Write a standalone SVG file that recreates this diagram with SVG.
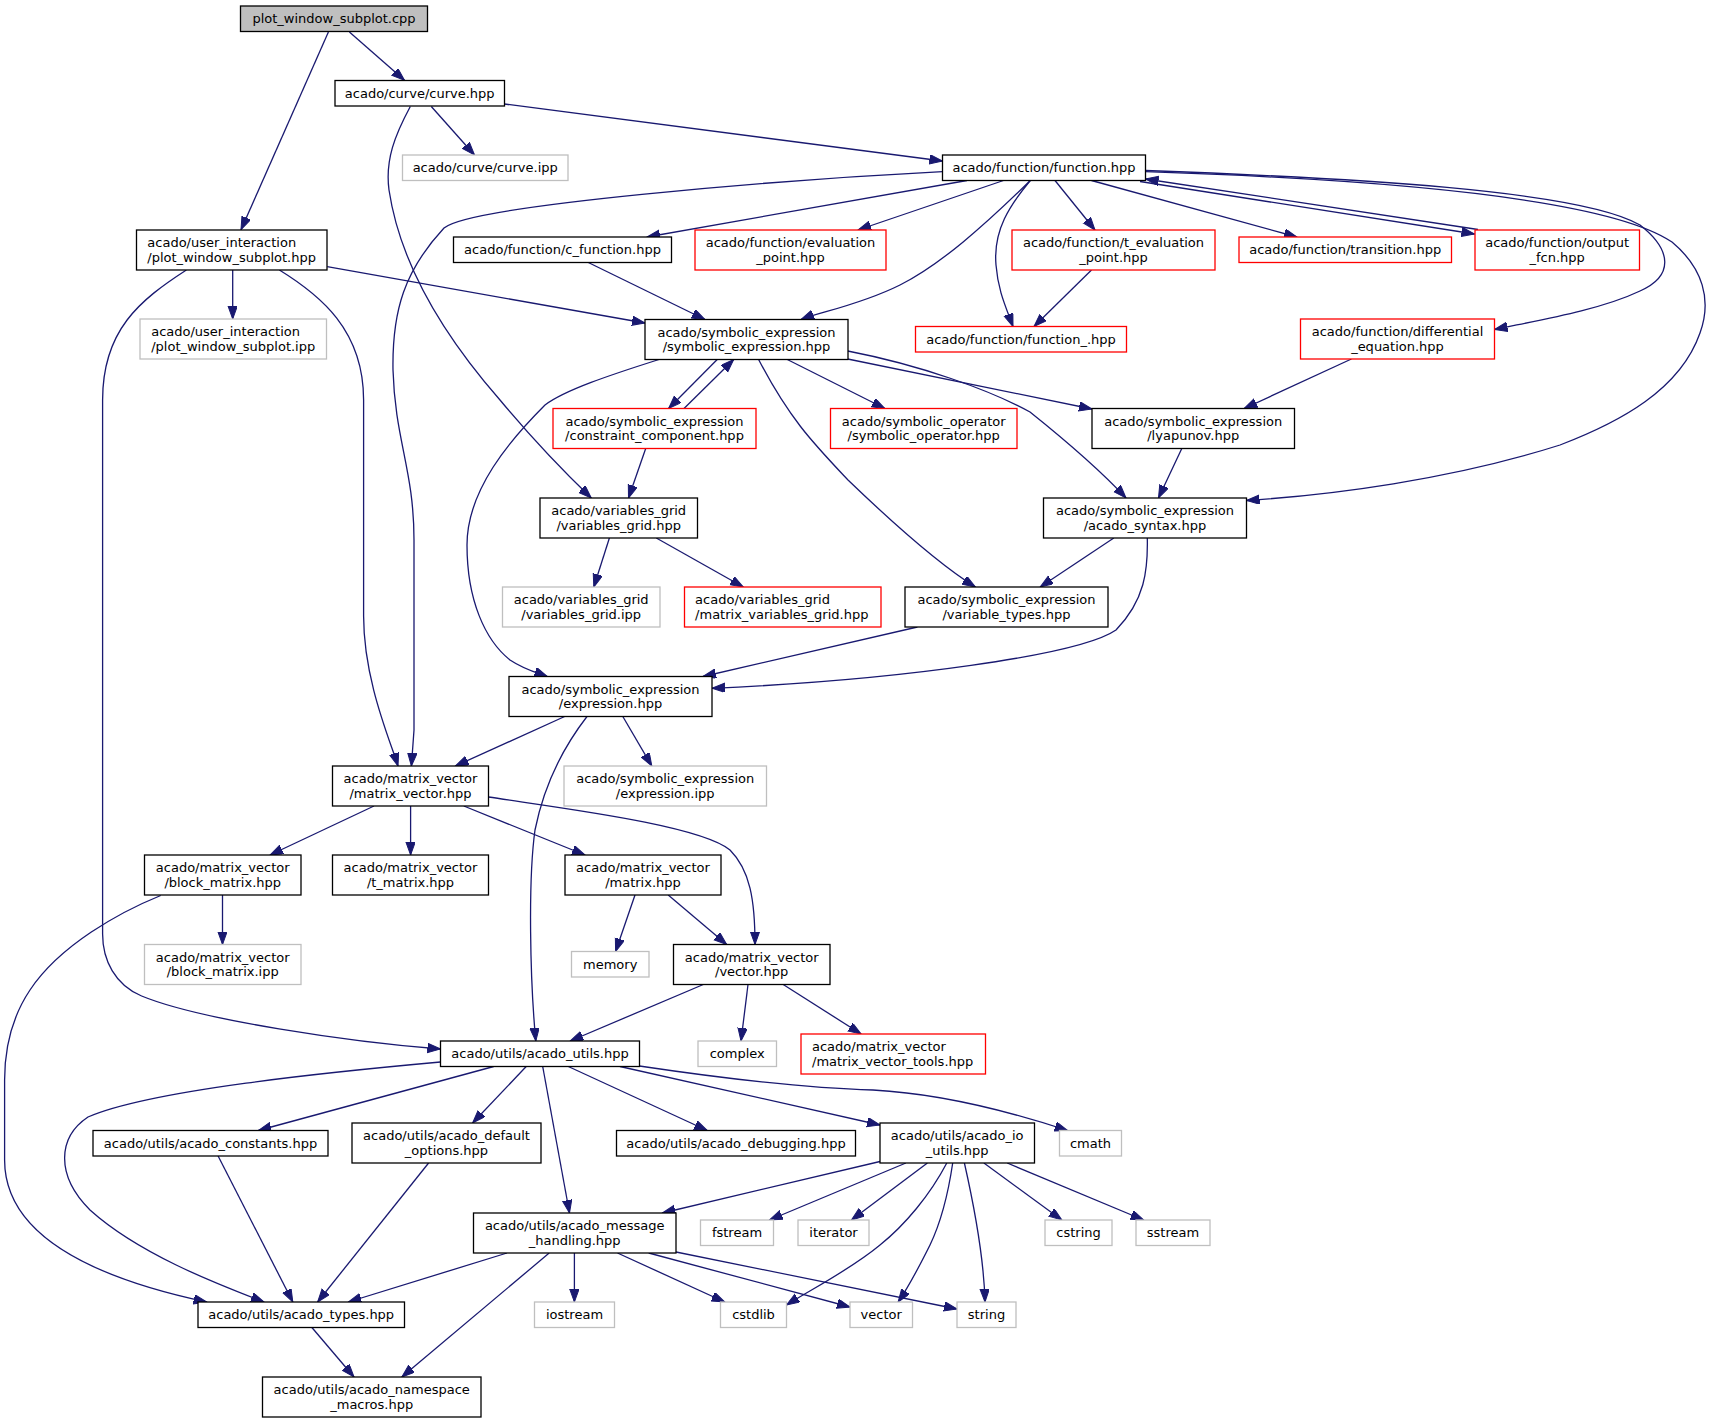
<svg xmlns="http://www.w3.org/2000/svg" width="1711" height="1423" viewBox="0 0 1711 1423">
<style>
rect{fill:#fff;stroke:#000;stroke-width:1.3}
.r rect{stroke:#ff0000}
.g rect{stroke:#bfbfbf}
.root rect{fill:#bfbfbf}
text{font-family:"DejaVu Sans","Liberation Sans",sans-serif;font-size:13px;text-anchor:middle;fill:#000}
text.l{text-anchor:start}
.e path{fill:none;stroke:#191970;stroke-width:1.3;marker-end:url(#a)}
</style>
<defs>
<marker id="a" markerUnits="userSpaceOnUse" markerWidth="15" markerHeight="11" refX="13" refY="4.7" orient="auto">
<path d="M0,0 L13,4.7 L0,9.4 z" fill="#191970" stroke="#191970" stroke-width="1"/>
</marker>
</defs>
<rect x="0" y="0" width="1711" height="1423" style="fill:#fff;stroke:none"/>
<g class="e" id="edges">
<path d="M349.4,32 L404.5,80.3"/>
<path d="M328.4,32 L241,229.7"/>
<path d="M431.3,106.5 L474.5,155"/>
<path d="M504.4,104 L942.5,161"/>
<path d="M410.3,106.5 C395,135 385,160 389,190 C398,250 430,320 500,400 C525,430 560,468 591.3,498"/>
<path d="M942.5,171.7 C780,180 470,205 444,228 C405,270 392,310 393,370 C395,440 414,470 414,540 L414,730 L411.4,766"/>
<path d="M279.4,270 C320,295 363.6,330 363.6,400 L363.6,616 C363.6,680 390,740 398,766"/>
<path d="M232.7,270 L232.7,319"/>
<path d="M186.4,270 C140,300 102.6,330 102.6,400 L102.6,934 C102.6,960 115,985 141.6,996 C200,1020 350,1042 440.5,1049"/>
<path d="M327.2,266.7 L645,323"/>
<path d="M967,180.5 L647,237"/>
<path d="M1003.5,180.5 L858,230"/>
<path d="M1030.3,180.5 C985,225 940,265 900,285 C860,305 820,312 801,319.5"/>
<path d="M1030.3,180.5 C1010,205 993,230 996,265 C998,290 1005,305 1013,326.5"/>
<path d="M1091.5,270 L1034,326.5"/>
<path d="M1055,180.5 L1095,230"/>
<path d="M1091.5,180.5 L1297,237"/>
<path d="M1140,181.5 L1474.5,234"/>
<path d="M1478,229.5 L1145.5,179"/>
<path d="M1145.5,170.5 C1350,178 1580,190 1640,225 C1672,250 1674,276 1640,291 C1600,310 1540,320 1494.5,329.5"/>
<path d="M1145.5,171.7 C1400,180 1610,200 1672,242 C1703,268 1712,300 1700,333 C1680,390 1620,422 1560,445 C1450,480 1330,495 1246.5,500.5"/>
<path d="M588.3,262.5 L705,319.5"/>
<path d="M717.2,359.5 L668.6,408.5"/>
<path d="M684,408.5 L733.7,359.5"/>
<path d="M645.7,448.5 L628.5,498"/>
<path d="M787.3,359.5 L884.9,408.5"/>
<path d="M847.7,359 L1092,409"/>
<path d="M847.7,351 C920,365 990,390 1030,412 C1065,440 1100,470 1126,498"/>
<path d="M758.6,359.5 C790,420 815,445 848,480 C900,530 940,565 975.4,587"/>
<path d="M659,359.5 C610,375 565,390 545,405 C510,440 467,490 467,545 C467,600 485,640 510,660 C525,670 538,673 547.3,676.5"/>
<path d="M609.4,538 L593.8,587"/>
<path d="M656.3,538 L743.3,587"/>
<path d="M1181.8,448.5 L1158.5,498"/>
<path d="M1351.4,359 L1244.2,408.5"/>
<path d="M1113.8,538 L1040.2,587"/>
<path d="M1147.3,538 C1148,570 1145,600 1116,630 C1080,655 900,680 712,688.3"/>
<path d="M917.4,627 L703,676.5"/>
<path d="M564.7,716.5 L455.4,766"/>
<path d="M622.8,716.5 L651.8,766"/>
<path d="M587,716.5 C565,745 545,780 535,830 C528,880 530,980 535.8,1041"/>
<path d="M374,806 L270,855"/>
<path d="M410.6,806 L410.6,855"/>
<path d="M463.8,806 L585,855"/>
<path d="M488.5,797 C560,808 700,825 730,850 C750,870 755,900 755,944.5"/>
<path d="M222.5,895 L222.5,944.5"/>
<path d="M160.7,895.5 C120,912 60,945 30,990 C10,1020 4.6,1050 4.6,1080 L4.6,1160 C4.6,1230 80,1275 206.7,1302"/>
<path d="M635,895 L615.6,951.5"/>
<path d="M668.2,895 L726.7,944.5"/>
<path d="M703.3,984.5 L570.2,1041"/>
<path d="M748,984.5 L741,1041"/>
<path d="M783.2,984.5 L861.1,1034"/>
<path d="M440.5,1062 C330,1072 150,1090 88,1117 C58,1137 55,1175 90,1210 C140,1255 220,1285 264,1302"/>
<path d="M493.7,1066.5 L258.3,1130.5"/>
<path d="M526.2,1066.5 L472.6,1123"/>
<path d="M542.7,1066.5 L569.5,1213"/>
<path d="M568.3,1066.5 L707.2,1130.5"/>
<path d="M620,1066.5 L880,1125"/>
<path d="M639.4,1066 C720,1078 800,1088 873,1090 C930,1093 990,1105 1067.6,1130.5"/>
<path d="M218.1,1156 L292.8,1302"/>
<path d="M428.6,1163 L317.6,1302"/>
<path d="M507,1253 L348.3,1302"/>
<path d="M549.2,1253 L401.8,1377"/>
<path d="M574.4,1253 L574.4,1302"/>
<path d="M617.5,1253 L724.7,1302"/>
<path d="M648.7,1253 L850,1307"/>
<path d="M676,1252 L957,1309"/>
<path d="M311.9,1327.5 L354,1377"/>
<path d="M880,1161.5 L662.4,1213"/>
<path d="M905.9,1163 L769.5,1220"/>
<path d="M927.4,1163 L851.4,1220"/>
<path d="M946.8,1163 C930,1195 905,1225 880,1245 C850,1270 810,1290 786.5,1305"/>
<path d="M952.7,1163 C948,1195 942,1220 930,1245 C920,1265 910,1285 898.1,1302"/>
<path d="M964.4,1163 C975,1210 984,1260 985,1302"/>
<path d="M983.9,1163 L1061.8,1220"/>
<path d="M1007.2,1163 L1143.6,1220"/>
</g>
<g id="n_cpp" class="root"><rect x="240.5" y="6" width="187" height="25.5"/><text x="334" y="23.3">plot_window_subplot.cpp</text></g>
<g id="n_curve"><rect x="335" y="80.5" width="169.5" height="25.5"/><text x="419.7" y="97.8">acado/curve/curve.hpp</text></g>
<g id="n_curveipp" class="g"><rect x="402.5" y="155" width="165.5" height="25.5"/><text x="485.2" y="172.3">acado/curve/curve.ipp</text></g>
<g id="n_ui"><rect x="136.5" y="230" width="190.5" height="40"/><text class="l" x="147.3" y="247">acado/user_interaction</text><text class="l" x="147.3" y="261.5">/plot_window_subplot.hpp</text></g>
<g id="n_uiipp" class="g"><rect x="140" y="319" width="186.5" height="40"/><text class="l" x="151.2" y="336">acado/user_interaction</text><text class="l" x="151.2" y="350.5">/plot_window_subplot.ipp</text></g>
<g id="n_function"><rect x="942.5" y="155" width="203" height="25.5"/><text x="1044" y="172.3">acado/function/function.hpp</text></g>
<g id="n_cfunction"><rect x="453.5" y="237" width="218" height="25.5"/><text x="562.5" y="254.3">acado/function/c_function.hpp</text></g>
<g id="n_evalpt" class="r"><rect x="695" y="230" width="191" height="40"/><text x="790.5" y="247">acado/function/evaluation</text><text x="790.5" y="261.5">_point.hpp</text></g>
<g id="n_tevalpt" class="r"><rect x="1012" y="230" width="203" height="40"/><text x="1113.5" y="247">acado/function/t_evaluation</text><text x="1113.5" y="261.5">_point.hpp</text></g>
<g id="n_transition" class="r"><rect x="1239" y="237" width="212.5" height="25.5"/><text x="1345.2" y="254.3">acado/function/transition.hpp</text></g>
<g id="n_outputfcn" class="r"><rect x="1475" y="230" width="164.5" height="40"/><text x="1557.2" y="247">acado/function/output</text><text x="1557.2" y="261.5">_fcn.hpp</text></g>
<g id="n_symexpr"><rect x="645" y="319.5" width="203" height="40"/><text x="746.5" y="336.5">acado/symbolic_expression</text><text x="746.5" y="351">/symbolic_expression.hpp</text></g>
<g id="n_function_" class="r"><rect x="915.5" y="326.5" width="211" height="25.5"/><text x="1021" y="343.8">acado/function/function_.hpp</text></g>
<g id="n_diffeq" class="r"><rect x="1300.5" y="319" width="194" height="40"/><text x="1397.5" y="336">acado/function/differential</text><text x="1397.5" y="350.5">_equation.hpp</text></g>
<g id="n_constraint" class="r"><rect x="553" y="408.5" width="203" height="40"/><text x="654.5" y="425.5">acado/symbolic_expression</text><text x="654.5" y="440">/constraint_component.hpp</text></g>
<g id="n_symop" class="r"><rect x="830.5" y="408.5" width="186.5" height="40"/><text x="923.7" y="425.5">acado/symbolic_operator</text><text x="923.7" y="440">/symbolic_operator.hpp</text></g>
<g id="n_lyapunov"><rect x="1092" y="408.5" width="202.5" height="40"/><text x="1193.2" y="425.5">acado/symbolic_expression</text><text x="1193.2" y="440">/lyapunov.hpp</text></g>
<g id="n_vargrid"><rect x="540" y="498" width="157.5" height="40"/><text x="618.7" y="515">acado/variables_grid</text><text x="618.7" y="529.5">/variables_grid.hpp</text></g>
<g id="n_syntax"><rect x="1043.5" y="498" width="203" height="40"/><text x="1145" y="515">acado/symbolic_expression</text><text x="1145" y="529.5">/acado_syntax.hpp</text></g>
<g id="n_vargridipp" class="g"><rect x="502.5" y="587" width="157.5" height="40"/><text x="581.2" y="604">acado/variables_grid</text><text x="581.2" y="618.5">/variables_grid.ipp</text></g>
<g id="n_matvargrid" class="r"><rect x="684.5" y="587" width="196.5" height="40"/><text class="l" x="695.1" y="604">acado/variables_grid</text><text class="l" x="695.1" y="618.5">/matrix_variables_grid.hpp</text></g>
<g id="n_vartypes"><rect x="905" y="587" width="203" height="40"/><text x="1006.5" y="604">acado/symbolic_expression</text><text x="1006.5" y="618.5">/variable_types.hpp</text></g>
<g id="n_expression"><rect x="509" y="676.5" width="203" height="40"/><text x="610.5" y="693.5">acado/symbolic_expression</text><text x="610.5" y="708">/expression.hpp</text></g>
<g id="n_exprIpp" class="g"><rect x="564" y="766" width="202.5" height="40"/><text x="665.2" y="783">acado/symbolic_expression</text><text x="665.2" y="797.5">/expression.ipp</text></g>
<g id="n_matvec"><rect x="332.5" y="766" width="156" height="40"/><text x="410.5" y="783">acado/matrix_vector</text><text x="410.5" y="797.5">/matrix_vector.hpp</text></g>
<g id="n_blockmatrix"><rect x="144.5" y="855" width="156.5" height="40"/><text x="222.7" y="872">acado/matrix_vector</text><text x="222.7" y="886.5">/block_matrix.hpp</text></g>
<g id="n_tmatrix"><rect x="332.5" y="855" width="156" height="40"/><text x="410.5" y="872">acado/matrix_vector</text><text x="410.5" y="886.5">/t_matrix.hpp</text></g>
<g id="n_matrix"><rect x="565" y="855" width="156" height="40"/><text x="643" y="872">acado/matrix_vector</text><text x="643" y="886.5">/matrix.hpp</text></g>
<g id="n_blockipp" class="g"><rect x="144.5" y="944.5" width="156.5" height="40"/><text x="222.7" y="961.5">acado/matrix_vector</text><text x="222.7" y="976">/block_matrix.ipp</text></g>
<g id="n_memory" class="g"><rect x="571.5" y="951.5" width="77.5" height="25.5"/><text x="610.2" y="968.8">memory</text></g>
<g id="n_vector"><rect x="673.5" y="944.5" width="156.5" height="40"/><text x="751.7" y="961.5">acado/matrix_vector</text><text x="751.7" y="976">/vector.hpp</text></g>
<g id="n_utils"><rect x="440.5" y="1041" width="199" height="25.5"/><text x="540" y="1058.3">acado/utils/acado_utils.hpp</text></g>
<g id="n_complex" class="g"><rect x="698" y="1041" width="78.5" height="25.5"/><text x="737.2" y="1058.3">complex</text></g>
<g id="n_mvtools" class="r"><rect x="801" y="1034" width="184.5" height="40"/><text class="l" x="812" y="1051">acado/matrix_vector</text><text class="l" x="812" y="1065.5">/matrix_vector_tools.hpp</text></g>
<g id="n_constants"><rect x="93" y="1130.5" width="235" height="25.5"/><text x="210.5" y="1147.8">acado/utils/acado_constants.hpp</text></g>
<g id="n_defopts"><rect x="352" y="1123" width="189" height="40"/><text x="446.5" y="1140">acado/utils/acado_default</text><text x="446.5" y="1154.5">_options.hpp</text></g>
<g id="n_debugging"><rect x="616.5" y="1130.5" width="239" height="25.5"/><text x="736" y="1147.8">acado/utils/acado_debugging.hpp</text></g>
<g id="n_ioutils"><rect x="880" y="1123" width="154.5" height="40"/><text x="957.2" y="1140">acado/utils/acado_io</text><text x="957.2" y="1154.5">_utils.hpp</text></g>
<g id="n_cmath" class="g"><rect x="1059.5" y="1130.5" width="62" height="25.5"/><text x="1090.5" y="1147.8">cmath</text></g>
<g id="n_msg"><rect x="473.5" y="1213" width="202.5" height="40"/><text x="574.7" y="1230">acado/utils/acado_message</text><text x="574.7" y="1244.5">_handling.hpp</text></g>
<g id="n_fstream" class="g"><rect x="700.5" y="1220" width="73" height="25.5"/><text x="737" y="1237.3">fstream</text></g>
<g id="n_iterator" class="g"><rect x="798" y="1220" width="71" height="25.5"/><text x="833.5" y="1237.3">iterator</text></g>
<g id="n_cstring" class="g"><rect x="1045" y="1220" width="67" height="25.5"/><text x="1078.5" y="1237.3">cstring</text></g>
<g id="n_sstream" class="g"><rect x="1136" y="1220" width="74" height="25.5"/><text x="1173" y="1237.3">sstream</text></g>
<g id="n_types"><rect x="198" y="1302" width="206.5" height="25.5"/><text x="301.2" y="1319.3">acado/utils/acado_types.hpp</text></g>
<g id="n_iostream" class="g"><rect x="534.5" y="1302" width="80" height="25.5"/><text x="574.5" y="1319.3">iostream</text></g>
<g id="n_cstdlib" class="g"><rect x="720.5" y="1302" width="66" height="25.5"/><text x="753.5" y="1319.3">cstdlib</text></g>
<g id="n_vectorstd" class="g"><rect x="850" y="1302" width="62.5" height="25.5"/><text x="881.2" y="1319.3">vector</text></g>
<g id="n_string" class="g"><rect x="957" y="1302" width="59" height="25.5"/><text x="986.5" y="1319.3">string</text></g>
<g id="n_namespace"><rect x="262.5" y="1377" width="218.5" height="40"/><text x="371.7" y="1394">acado/utils/acado_namespace</text><text x="371.7" y="1408.5">_macros.hpp</text></g>
</svg>
